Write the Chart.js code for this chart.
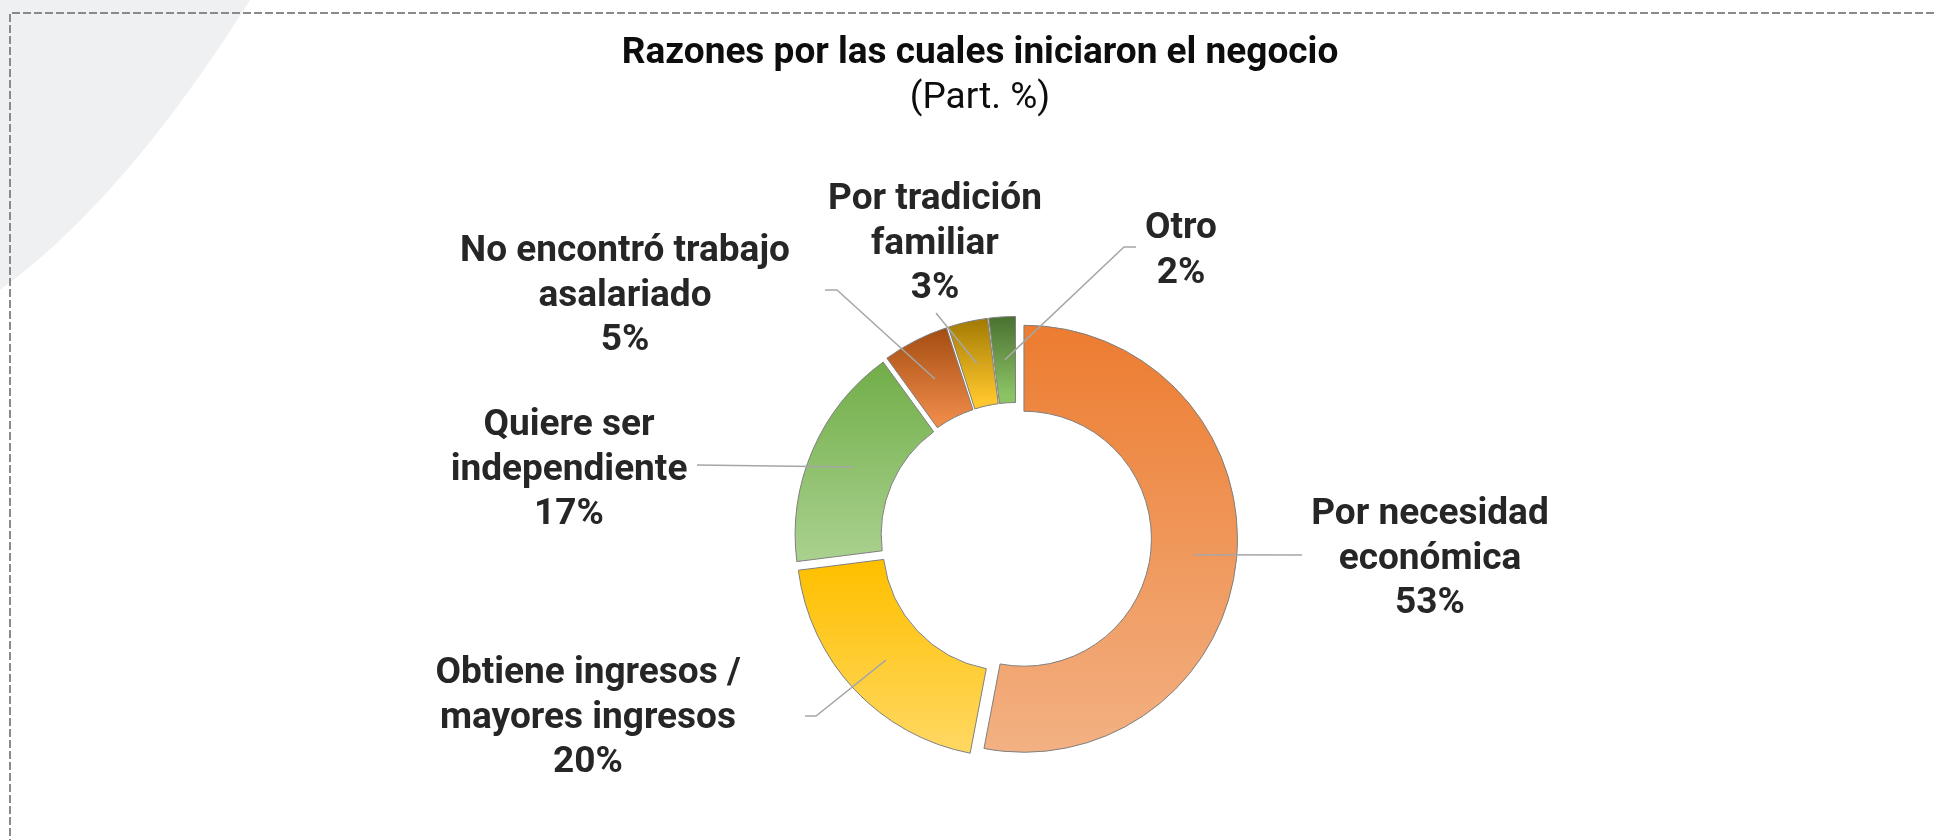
<!DOCTYPE html>
<html lang="es">
<head>
<meta charset="utf-8">
<title>Razones por las cuales iniciaron el negocio</title>
<script src="https://cdn.jsdelivr.net/npm/chart.js@4.4.1/dist/chart.umd.min.js"></script>
<style>
    html, body { margin: 0; padding: 0; background: #ffffff; }
    #lienzo { position: relative; width: 1934px; height: 840px; overflow: hidden; }
    #grafico { position: absolute; left: 0; top: 0; }
    .titulo {
        position: absolute; left: 980px; transform: translateX(-50%);
        white-space: nowrap; font-family: Roboto, 'Noto Sans', sans-serif;
        font-size: 37px; line-height: 44px; color: #0d0d0d;
    }
    #titulo { top: 29px; font-weight: 700; }
    #subtitulo { top: 74px; font-weight: 400; }
</style>
</head>
<body>
<div id="lienzo">
    <canvas id="grafico" width="1934" height="840"></canvas>
    <div class="titulo" id="titulo">Razones por las cuales iniciaron el negocio</div>
    <div class="titulo" id="subtitulo">(Part. %)</div>
</div>
<script>
// Datos del gráfico
const categorias = [
    ['Por necesidad', 'económica'],
    ['Obtiene ingresos /', 'mayores ingresos'],
    ['Quiere ser', 'independiente'],
    ['No encontró trabajo', 'asalariado'],
    ['Por tradición', 'familiar'],
    ['Otro']
];
const valores = [53, 20, 17, 5, 3, 2];

// Degradado de cada porción (arriba -> abajo)
const coloresArriba = ['#EC7C30', '#FFC000', '#70AD47', '#9E480E', '#997300', '#43682B'];
const coloresAbajo  = ['#F3B183', '#FFD966', '#A9D18E', '#EE8A48', '#FFC72C', '#8CC465'];

// Posición de las etiquetas respecto al centro del anillo (x, primera línea base y, fin de la guía)
const posEtiquetas = [
    { x: 414,  y: -14,  ax: 286,  ay: 17,   codo: 0 },
    { x: -428, y: 145,  ax: -211, ay: 178,  codo: 11 },
    { x: -447, y: -103, ax: -319, ay: -73,  codo: 0 },
    { x: -391, y: -277, ax: -191, ay: -248, codo: 12 },
    { x: -81,  y: -329, ax: -80,  ay: -225, codo: 0 },
    { x: 165,  y: -300, ax: 120,  ay: -291, codo: -12 }
];

const RADIO = 213.5;
const HUECO = '59.7%';
const SEPARACION = 8;
const INTERLINEA = 44.5;

// Degradado vertical que cubre solo la porción
function degradado(context) {
    const chart = context.chart;
    const i = context.dataIndex;
    const area = chart.chartArea;
    if (!area) return coloresArriba[i];
    const cy = (area.top + area.bottom) / 2;
    const total = valores.reduce((a, b) => a + b, 0);
    const previo = valores.slice(0, i).reduce((a, b) => a + b, 0);
    const a0 = -Math.PI / 2 + 2 * Math.PI * previo / total;
    const a1 = a0 + 2 * Math.PI * valores[i] / total;
    const dy = Math.sin((a0 + a1) / 2) * SEPARACION;
    const rIn = RADIO * parseFloat(HUECO) / 100;
    let min = Infinity, max = -Infinity;
    for (let k = 0; k <= 60; k++) {
        const s = Math.sin(a0 + (a1 - a0) * k / 60);
        [rIn, RADIO].forEach(r => {
            const y = cy + dy + s * r;
            min = Math.min(min, y);
            max = Math.max(max, y);
        });
    }
    const g = chart.ctx.createLinearGradient(0, min, 0, max);
    g.addColorStop(0, coloresArriba[i]);
    g.addColorStop(1, coloresAbajo[i]);
    return g;
}

// Fondo: franja gris y borde punteado
const fondo = {
    id: 'fondo',
    beforeDraw(chart) {
        const ctx = chart.ctx;
        ctx.save();
        ctx.fillStyle = '#eff0f2';
        ctx.beginPath();
        ctx.moveTo(0, 0);
        ctx.lineTo(250, 0);
        ctx.quadraticCurveTo(125, 199, 0, 290);
        ctx.closePath();
        ctx.fill();
        ctx.strokeStyle = '#8a8a8a';
        ctx.lineWidth = 2;
        ctx.setLineDash([8, 3]);
        ctx.beginPath();
        ctx.moveTo(chart.width, 13);
        ctx.lineTo(10, 13);
        ctx.lineTo(10, chart.height);
        ctx.stroke();
        ctx.restore();
    }
};

// Porciones separadas del centro
const separar = {
    id: 'separar',
    beforeDatasetDraw(chart, args) {
        const ctx = chart.ctx;
        args.meta.data.forEach(arco => {
            const medio = (arco.startAngle + arco.endAngle) / 2;
            ctx.save();
            ctx.translate(Math.cos(medio) * SEPARACION, Math.sin(medio) * SEPARACION);
            arco.draw(ctx, chart.chartArea);
            ctx.restore();
        });
        return false;
    }
};

// Etiquetas con líneas guía
const etiquetas = {
    id: 'etiquetas',
    afterDatasetsDraw(chart) {
        const ctx = chart.ctx;
        const arcos = chart.getDatasetMeta(0).data;
        ctx.save();
        arcos.forEach((arco, i) => {
            const p = posEtiquetas[i];
            const medio = (arco.startAngle + arco.endAngle) / 2;
            const r = (arco.innerRadius + arco.outerRadius) / 2;
            const x0 = arco.x + Math.cos(medio) * (r + SEPARACION);
            const y0 = arco.y + Math.sin(medio) * (r + SEPARACION);
            ctx.strokeStyle = '#a6a6a6';
            ctx.lineWidth = 1.5;
            ctx.beginPath();
            ctx.moveTo(x0, y0);
            ctx.lineTo(arco.x + p.ax + p.codo, arco.y + p.ay);
            ctx.lineTo(arco.x + p.ax, arco.y + p.ay);
            ctx.stroke();

            const lineas = [].concat(chart.data.labels[i], valores[i] + '%');
            ctx.fillStyle = '#262626';
            ctx.font = 'bold 37px Roboto';
            ctx.textAlign = 'center';
            ctx.textBaseline = 'alphabetic';
            lineas.forEach((t, k) => {
                ctx.fillText(t, arco.x + p.x, arco.y + p.y + k * INTERLINEA);
            });
        });
        ctx.restore();
    }
};

new Chart(document.getElementById('grafico'), {
    type: 'doughnut',
    data: {
        labels: categorias,
        datasets: [{
            data: valores,
            backgroundColor: degradado,
            borderColor: '#7f7f7f',
            borderWidth: 1
        }]
    },
    options: {
        responsive: false,
        animation: false,
        devicePixelRatio: 1,
        events: [],
        radius: RADIO,
        cutout: HUECO,
        layout: { padding: { left: 400, right: 302, top: 300, bottom: 64 } },
        plugins: {
            legend: { display: false },
            tooltip: { enabled: false },
            title: { display: false }
        }
    },
    plugins: [fondo, separar, etiquetas]
});
</script>
</body>
</html>
